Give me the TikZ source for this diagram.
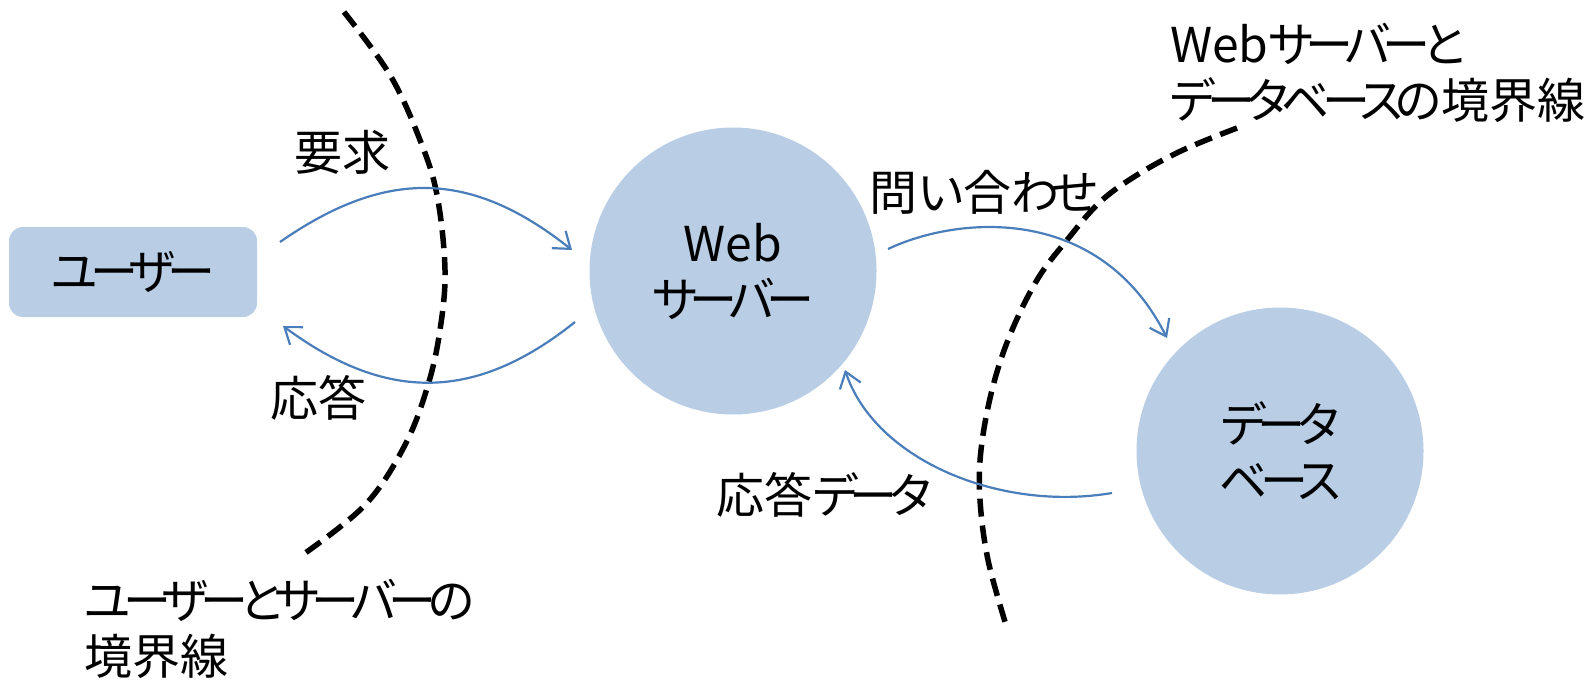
\documentclass[tikz,border=0pt]{standalone}
\usepackage{fontspec}
\setmainfont{Noto Sans CJK JP}
\newfontfamily\kn[RawFeature={+palt},LetterSpace=-16]{Noto Sans CJK JP}
\usetikzlibrary{arrows.meta}
\definecolor{boxfill}{HTML}{B9CDE5}
\definecolor{arrowblue}{HTML}{4A7EBB}
\tikzset{
  txt/.style={font=\fontsize{48}{56}\selectfont, inner sep=0pt},
  userbox/.style={txt, fill=boxfill, rounded corners=14pt, minimum width=248pt, minimum height=90pt},
  bubble/.style={txt, circle, fill=boxfill, minimum size=287pt, align=center},
  flow/.style={draw=arrowblue, line width=2.2pt, -{Straight Barb[length=15pt,width=22pt,line width=2.2pt]}},
  border/.style={draw=black, line width=5.5pt, dash pattern=on 18pt off 9pt}
}
\begin{document}
\begin{tikzpicture}[x=1pt,y=-1pt]
\useasboundingbox (0,0) rectangle (1585,682);
% nodes
\node[userbox] (user) at (133,272) {{\kn ユーザー}};
\node[bubble] (web) at (733,271) {Web\\{\kn サーバー}};
\node[bubble] (db) at (1280,451) {{\kn データ}\\{\kn ベース}};
% boundary lines
\draw[border] plot[smooth, tension=0.6] coordinates {(344,12) (390,75) (420,140) (437,195) (445,270) (440,330) (428,385) (405,445) (365,505) (301,556)};
\draw[border] plot[smooth, tension=0.6] coordinates {(1237,128) (1183,150) (1137,175) (1100,202) (1067,240) (1037,280) (1010,335) (992,390) (981,450) (980,500) (988,560) (1006,625)};
% arrow end points
\coordinate (reqS) at (280,242);
\coordinate (reqE) at (572,250);
\coordinate (resS) at (575,322);
\coordinate (resE) at (283,326);
\coordinate (qS) at (888,249);
\coordinate (qE) at (1167,338);
\coordinate (dS) at (1112,493);
\coordinate (dE) at (845,370);
\draw[flow] (reqS) .. controls (385,169) and (470,169) .. (reqE);
\draw[flow] (resS) .. controls (475,402) and (386,402) .. (resE);
\draw[flow] (qS) .. controls (960,215) and (1100,205) .. (qE);
\draw[flow] (dS) .. controls (1000,512) and (875,460) .. (dE);
% labels
\node[txt, anchor=base] (lreq) at (342,171) {要求};
\node[txt, anchor=base] (lres) at (318,416) {応答};
\node[txt, anchor=base] (lq) at (984,210) {問{\kn い}合{\kn わせ}};
\node[txt, anchor=base] (ld) at (824,513) {応答{\kn データ}};
\node[txt, anchor=base west, align=left] (lb1) at (84,674) {{\kn ユーザーとサーバーの}\\境界線};
\node[txt, anchor=base west, align=left] (lb2) at (1170,119) {Web{\kn サーバーと}\\{\kn データベースの}境界線};
\end{tikzpicture}
\end{document}
